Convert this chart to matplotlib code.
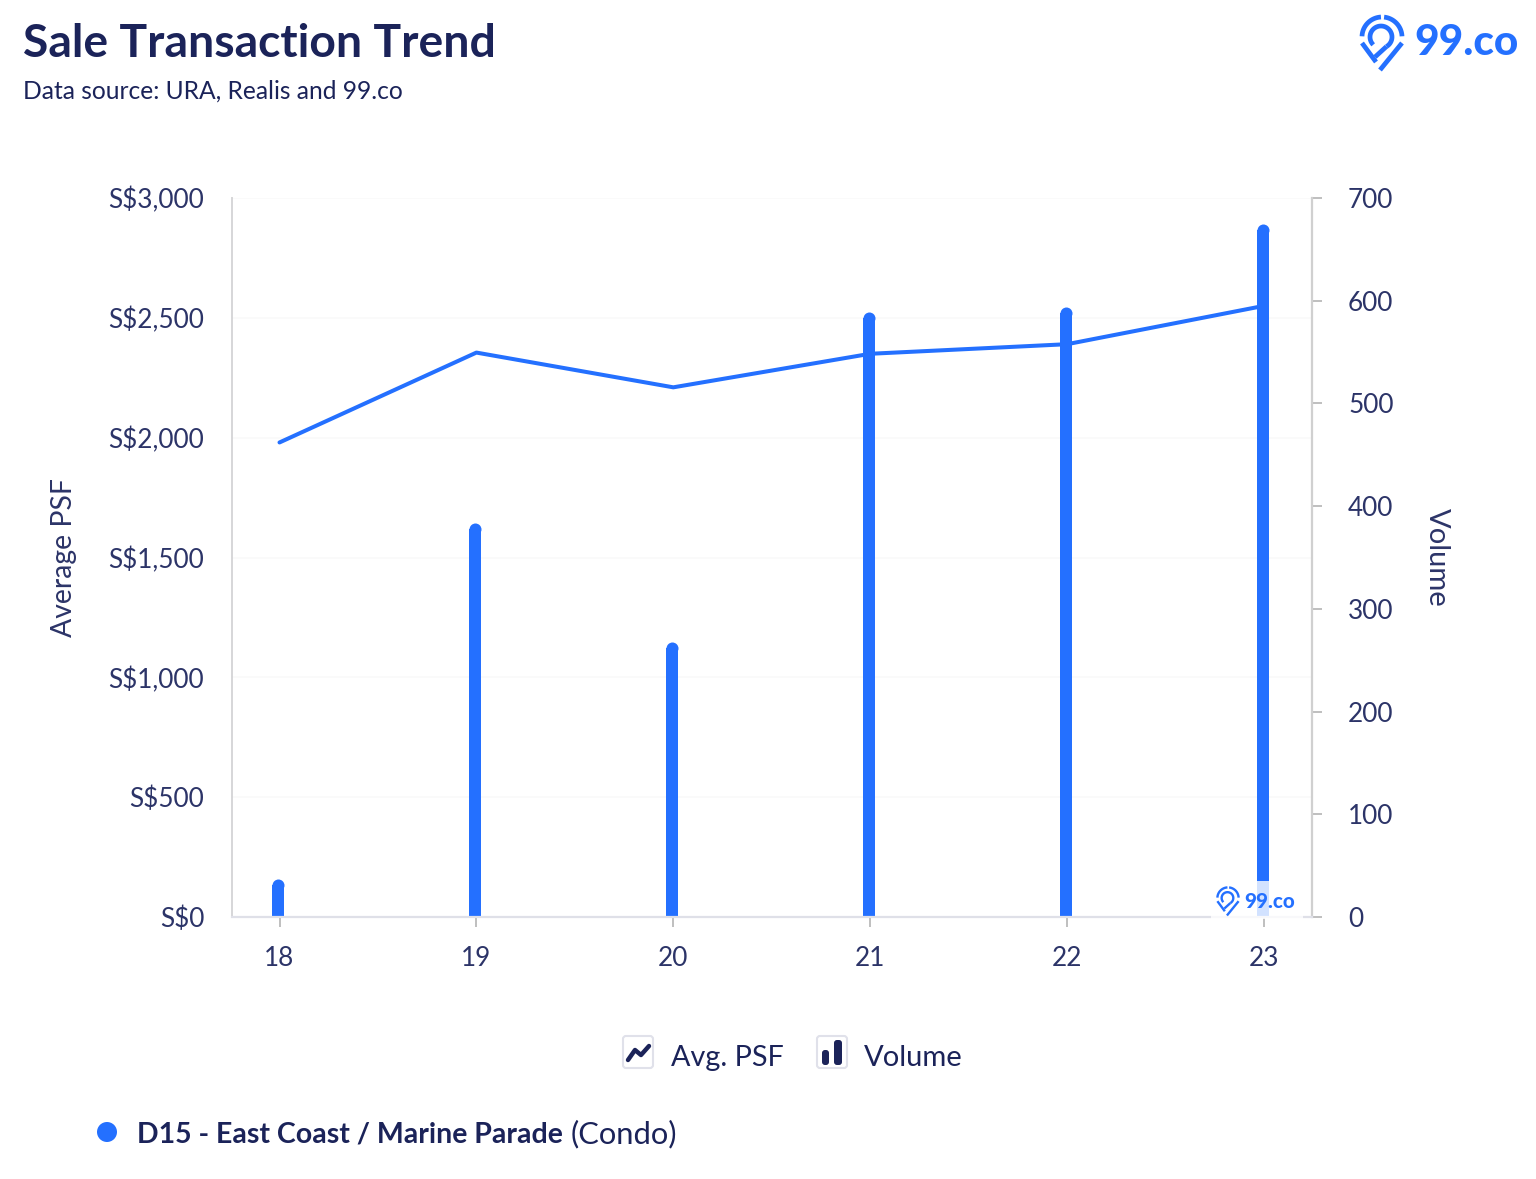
import numpy as np
import matplotlib
matplotlib.use("Agg")
import matplotlib.pyplot as plt
from matplotlib.patches import FancyBboxPatch, Rectangle, Circle

years = ["18", "19", "20", "21", "22", "23"]
avg_psf = [1980, 2355, 2210, 2350, 2390, 2550]
volume = [37, 384, 268, 589, 594, 675]
psf_ticks = [0, 500, 1000, 1500, 2000, 2500, 3000]
psf_labels = ["S$0", "S$500", "S$1,000", "S$1,500", "S$2,000", "S$2,500", "S$3,000"]
vol_ticks = [0, 100, 200, 300, 400, 500, 600, 700]

W, H = 1536, 1179
BLUE = "#2470ff"
NAVY = "#1b2359"
TICK = "#2c3468"
plt.rcParams["font.family"] = ["Lato", "DejaVu Sans"]

fig = plt.figure(figsize=(W / 100, H / 100), dpi=100, facecolor="white")
L, R, T, B = 232, 1312, 198, 917
ax = fig.add_axes([L / W, 1 - B / H, (R - L) / W, (B - T) / H])
ax2 = ax.twinx()
ax3 = ax.twinx()
x = np.arange(len(years))
step = 196.9
x0 = (278.2 - L) / step
off = 1.3 / step
ax.set_xlim(-x0, -x0 + (R - L) / step)
ax.set_ylim(0, 3000)
ax2.set_ylim(0, 700)
ax3.set_ylim(0, 3000)
ax3.set_yticks([])

r_data = 6 * 700 / (B - T)
vol = np.array(volume, dtype=float)
ax2.bar(x, vol - r_data, width=12 / step, color=BLUE, linewidth=0)
ax2.plot(x, vol - r_data, "o", ms=8.64, mew=0, color=BLUE, clip_on=False)
ax3.plot(x + off, avg_psf, color=BLUE, lw=2.9, solid_capstyle="round", solid_joinstyle="round")

ax.set_yticks(psf_ticks, psf_labels)
ax.set_xticks(x + off, years)
ax2.set_yticks(vol_ticks, [str(v) for v in vol_ticks])
ax.grid(axis="y", color="#fafafa", lw=1.2)
ax.set_axisbelow(True)
for a in (ax, ax2, ax3):
    for s in a.spines.values():
        s.set_visible(False)
ax.spines["left"].set_visible(True)
ax.spines["left"].set_color("#d6d6d8")
ax.spines["left"].set_linewidth(1.4)
ax3.spines["bottom"].set_visible(True)
ax3.spines["bottom"].set_color("#dfe0e8")
ax3.spines["bottom"].set_linewidth(1.6)
ax2.spines["right"].set_visible(True)
ax2.spines["right"].set_color("#d0d0d0")
ax2.spines["right"].set_linewidth(1.6)
ax.tick_params(axis="y", length=0, pad=20, labelsize=18.8, labelcolor=TICK)
ax.tick_params(axis="x", length=7, width=1.2, color="#b4b4b4", pad=14, labelsize=18.8, labelcolor=TICK)
ax2.tick_params(axis="y", length=7, width=1.2, color="#b4b4b4", pad=19, labelsize=18.8, labelcolor=TICK)
ax.set_ylabel("Average PSF", fontsize=20.4, color=TICK)
ax.yaxis.set_label_coords((77 - L) / (R - L), 0.5)
ax2.set_ylabel("Volume", fontsize=21, color=TICK, rotation=270, va="center")
ax2.yaxis.set_label_coords((1437 - L) / (R - L), 0.5)

# overlay in pixel coordinates for title, logos and legend
ov = fig.add_axes([0, 0, 1, 1], facecolor="none", zorder=10)
ov.set_xlim(0, W)
ov.set_ylim(H, 0)
ov.axis("off")

ov.text(23, 44, "Sale Transaction Trend", fontsize=33.3, fontweight="bold", color=NAVY, va="center")
ov.text(23, 91, "Data source: URA, Realis and 99.co", fontsize=17.7, color=NAVY, va="center")


def arc(cx, cy, r, a0, a1, s, ox, oy, lw):
    t = np.radians(np.linspace(a0, a1, 40))
    ov.plot(ox + s * (cx + r * np.cos(t)), oy - s * (cy + r * np.sin(t)), color=BLUE, lw=lw, solid_capstyle="butt")


def seg(p, q, s, ox, oy, lw):
    ov.plot([ox + s * p[0], ox + s * q[0]], [oy - s * p[1], oy - s * q[1]], color=BLUE, lw=lw, solid_capstyle="butt")


def pin(ox, oy, s, lw):
    arc(0, 0, 20, 93, 178, s, ox, oy, lw)
    arc(0, 0, 20, 84, 2, s, ox, oy, lw)
    seg((-20, -6), (-6, -25), s, ox, oy, lw)
    seg((20, -6), (-2, -33), s, ox, oy, lw)
    arc(-1, 0, 11, -60, 225, s, ox, oy, lw)
    seg((4.5, -9.5), (-7, -20), s, ox, oy, lw)


pin(1382, 37, 1.0, 3.4)
ov.text(1414, 43, "99.co", fontsize=30.5, fontweight="black", color=BLUE, va="center", ha="left")

ov.add_patch(Rectangle((1211, 881), 92, 38, fc="white", ec="none", alpha=0.8, zorder=1))
pin(1228, 898, 0.53, 1.7)
ov.text(1244, 902, "99.co", fontsize=14.8, fontweight="black", color=BLUE, va="center", ha="left", zorder=3)

# legend
for bx in (623, 817):
    ov.add_patch(FancyBboxPatch((bx, 1036), 30, 32, boxstyle="round,pad=0,rounding_size=3",
                                fc="white", ec="#e0e1ea", lw=1.5))
ov.plot([628, 635, 641, 649], [1060, 1050, 1055, 1046], color=NAVY, lw=3.2, solid_capstyle="round", solid_joinstyle="round")
ov.add_patch(FancyBboxPatch((822, 1050), 7, 15, boxstyle="round,pad=0,rounding_size=3", fc=NAVY, ec="none"))
ov.add_patch(FancyBboxPatch((834, 1040), 8, 25, boxstyle="round,pad=0,rounding_size=3", fc=NAVY, ec="none"))
ov.text(671, 1058, "Avg. PSF", fontsize=20.7, color=NAVY, va="center")
ov.text(864, 1058, "Volume", fontsize=21, color=NAVY, va="center")

ov.add_patch(Circle((107, 1132), 10, fc=BLUE, ec="none"))
ov.text(137, 1134.5, "D15 - East Coast / Marine Parade", fontsize=20.5, fontweight="bold", color=NAVY, va="center")
ov.text(571, 1134.5, "(Condo)", fontsize=22.2, color=NAVY, va="center")

fig.savefig("out.png", dpi=100, facecolor="white")
